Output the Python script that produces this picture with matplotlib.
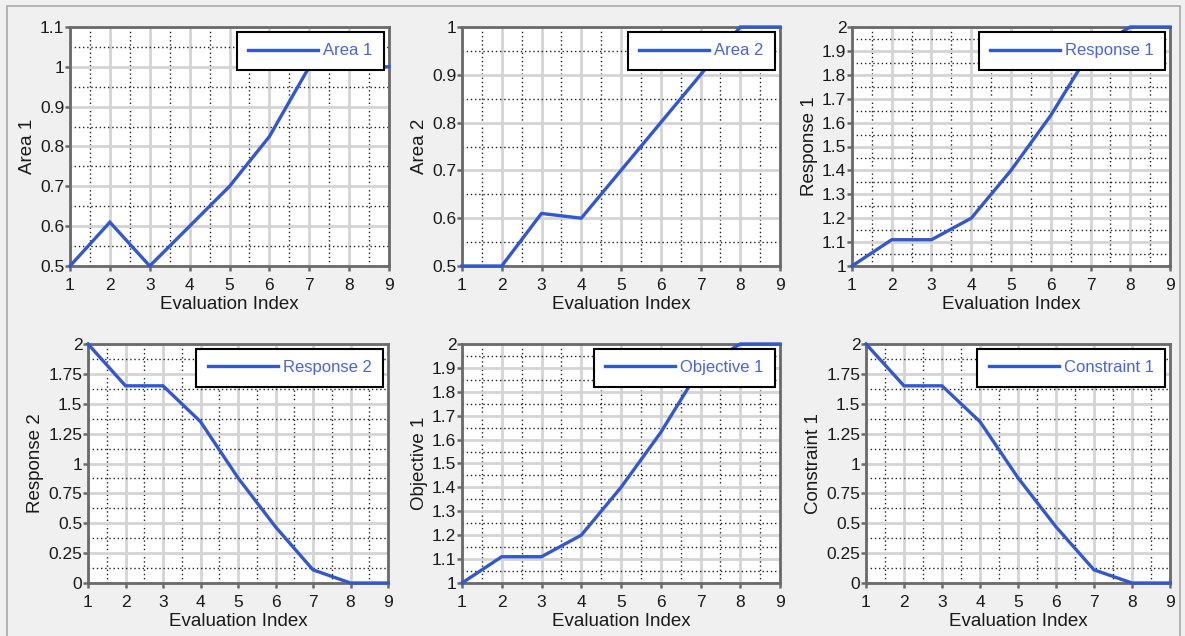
import matplotlib
matplotlib.use('Agg')
import matplotlib.pyplot as plt
from matplotlib.patches import Rectangle
from matplotlib.ticker import MultipleLocator
import numpy as np

plt.rcParams['font.family'] = ['Liberation Sans', 'DejaVu Sans']

# ---- data ----
evals = [1, 2, 3, 4, 5, 6, 7, 8, 9]
area1 = [0.5, 0.61, 0.5, 0.6, 0.7, 0.825, 1.0, 1.0, 1.0]
area2 = [0.5, 0.5, 0.61, 0.6, 0.7, 0.8, 0.9, 1.0, 1.0]
response1 = [1.0, 1.11, 1.11, 1.2, 1.4, 1.63, 1.9, 2.0, 2.0]
response2 = [2.0, 1.65, 1.65, 1.35, 0.88, 0.47, 0.11, 0.0, 0.0]
objective1 = [1.0, 1.11, 1.11, 1.2, 1.4, 1.63, 1.9, 2.0, 2.0]
constraint1 = [2.0, 1.65, 1.65, 1.35, 0.88, 0.47, 0.11, 0.0, 0.0]

names = ['Area 1', 'Area 2', 'Response 1', 'Response 2', 'Objective 1', 'Constraint 1']
series = [area1, area2, response1, response2, objective1, constraint1]
# (ymin, ymax, major step)
yscales = [(0.5, 1.1, 0.1), (0.5, 1.0, 0.1), (1.0, 2.0, 0.1),
           (0.0, 2.0, 0.25), (1.0, 2.0, 0.1), (0.0, 2.0, 0.25)]

W, H = 1185, 636
fig = plt.figure(figsize=(W / 100, H / 100), dpi=100)
fig.patch.set_facecolor('#f0f0f0')
fig.patches.append(Rectangle((7 / W, -0.01), 1173 / W, 1 - 6 / H + 0.01,
                             transform=fig.transFigure, fill=False,
                             edgecolor='#a8a8a8', linewidth=1.2))

line_color = '#3358cc'
text_blue = '#4a62e0'
spine_color = '#6a6a6a'
# axes boxes in pixels: (left, right) per panel, (top) per row
xspans = [(70, 389), (462, 780), (852, 1170),
          (88, 388), (462, 780), (866, 1170)]
tops = [27, 344]
ah = 239

for i, (name, vals, ys) in enumerate(zip(names, series, yscales)):
    r = i // 3
    x0, x1 = xspans[i]
    ax = fig.add_axes([x0 / W, 1 - (tops[r] + ah) / H, (x1 - x0) / W, ah / H])
    ax.set_facecolor('white')
    ax.plot(evals, vals, color=line_color, linewidth=2.4, label=name,
            solid_joinstyle='miter', clip_on=False, zorder=3)
    ymin, ymax, step = ys
    ax.set_xlim(1, 9)
    ax.set_ylim(ymin, ymax)
    ax.xaxis.set_major_locator(MultipleLocator(1))
    ax.xaxis.set_minor_locator(MultipleLocator(0.5))
    yt = np.round(np.arange(ymin, ymax + step / 2, step), 4)
    ax.set_yticks(yt)
    ax.set_yticklabels(['{:g}'.format(v) for v in yt])
    ax.yaxis.set_minor_locator(MultipleLocator(step / 2))
    ax.grid(which='major', color='#d4d4d4', linewidth=2, linestyle='-')
    ax.grid(which='minor', color='#202020', linewidth=1, linestyle=(0, (1, 2)))
    ax.set_axisbelow(True)
    for sp in ax.spines.values():
        sp.set_color(spine_color)
        sp.set_linewidth(2)
    ax.tick_params(which='major', direction='out', length=3.6, width=1.8,
                   color=spine_color, labelsize=12.5, labelcolor='#1a1a1a')
    ax.tick_params(axis='x', which='major', pad=5)
    ax.tick_params(axis='y', which='major', pad=0.5)
    ax.tick_params(which='minor', length=0)
    ax.set_xlabel('Evaluation Index', fontsize=13.5, labelpad=2, color='#1a1a1a')
    ax.set_ylabel(name, fontsize=13.5, labelpad=3, color='#1a1a1a')
    leg = ax.legend(loc='upper right', fontsize=12, frameon=True, fancybox=False,
                    handlelength=4.2, handletextpad=0.3, borderpad=0.68,
                    borderaxespad=0.3, labelcolor=text_blue)
    leg.get_frame().set_edgecolor('black')
    leg.get_frame().set_linewidth(1.5)
    leg.get_frame().set_alpha(1)
    leg.set_zorder(5)

fig.savefig('out.png', dpi=100, facecolor=fig.get_facecolor())
